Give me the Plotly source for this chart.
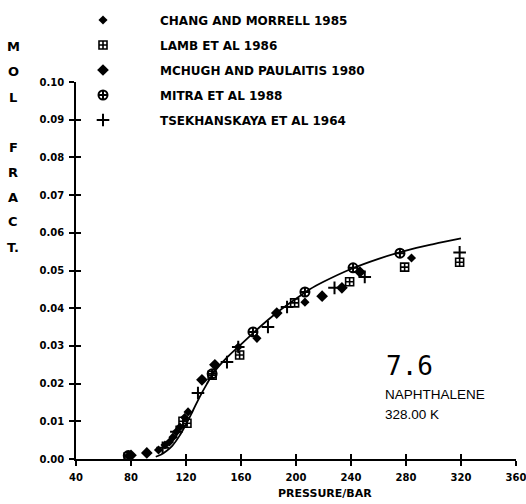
import plotly.graph_objects as go

# ---- data ----
curve_x = [98, 102, 106, 110, 115, 120, 125, 130, 135, 140, 150, 160, 170, 180,
           190, 200, 210, 220, 240, 260, 280, 300, 320]
curve_y = [0.0006, 0.0012, 0.0022, 0.0035, 0.0060, 0.0092, 0.0128, 0.0165, 0.0198,
           0.0228, 0.0270, 0.0304, 0.0338, 0.0370, 0.0399, 0.0425, 0.0450, 0.0470,
           0.0504, 0.0531, 0.0553, 0.0570, 0.0585]

chang_x = [78, 100, 104.7, 108, 110.5, 113, 115.6, 119, 121.5, 158, 171.6, 206.5, 284]
chang_y = [0.0008, 0.0024, 0.0037, 0.0045, 0.0058, 0.0072, 0.0085, 0.0110, 0.0125,
           0.0297, 0.0320, 0.0416, 0.0533]

lamb_x = [78, 117.8, 120.7, 139, 159, 199, 239, 279, 319]
lamb_y = [0.0006, 0.0100, 0.0095, 0.0222, 0.0276, 0.0414, 0.0470, 0.0509, 0.0522]

mchugh_x = [80, 91.5, 131.6, 141, 186, 219, 233.4, 246.5]
mchugh_y = [0.0010, 0.0016, 0.0210, 0.0250, 0.0387, 0.0432, 0.0454, 0.0496]

mitra_x = [78, 139, 168.7, 206.5, 241.5, 275.6]
mitra_y = [0.0009, 0.0226, 0.0337, 0.0443, 0.0507, 0.0546]

tsek_x = [103, 113, 128.7, 149.8, 158, 179.6, 193.5, 228, 250, 319]
tsek_y = [0.0030, 0.0072, 0.0175, 0.0257, 0.0297, 0.0350, 0.0403, 0.0454, 0.0483, 0.0548]

names = ["CHANG AND MORRELL 1985", "LAMB ET AL 1986", "MCHUGH AND PAULAITIS 1980",
         "MITRA ET AL 1988", "TSEKHANSKAYA ET AL 1964"]

x_ticks = [40, 80, 120, 160, 200, 240, 280, 320, 360]
y_ticks = [0.00, 0.01, 0.02, 0.03, 0.04, 0.05, 0.06, 0.07, 0.08, 0.09, 0.10]
y_title_letters = ["M", "O", "L", "", "F", "R", "A", "C", "T."]

FONT = "DejaVu Sans"
W, H = 526, 504
ML, MR, MT, MB = 76, 10, 82, 45
PW, PH = W - ML - MR, H - MT - MB

fig = go.Figure()

fig.add_trace(go.Scatter(x=curve_x, y=curve_y, mode="lines", showlegend=False,
                         line=dict(color="black", width=1.8, shape="spline", smoothing=1.0)))

series = [
    (chang_x, chang_y, dict(symbol="diamond", size=7, color="black")),
    (lamb_x, lamb_y, dict(symbol="square-cross-open", size=8, color="black",
                          line=dict(color="black", width=1.6))),
    (mchugh_x, mchugh_y, dict(symbol="diamond", size=9, color="black")),
    (mitra_x, mitra_y, dict(symbol="circle-cross-open", size=9, color="black",
                            line=dict(color="black", width=2))),
    (tsek_x, tsek_y, dict(symbol="cross-thin-open", size=9, color="black",
                          line=dict(color="black", width=2))),
]
for i, (sx, sy, mk) in enumerate(series):
    fig.add_trace(go.Scatter(x=sx, y=sy, mode="markers", name=names[i], marker=mk,
                             legendgroup=f"g{i}"))

# overlay axes so the ticks cross the axis lines
fig.add_trace(go.Scatter(x=[None], y=[None], xaxis="x2", yaxis="y2", showlegend=False,
                         hoverinfo="skip"))

axis_common = dict(showgrid=False, zeroline=False, showline=True, linecolor="black",
                   linewidth=1.6, tickcolor="black", tickwidth=1.6, ticklen=5,
                   automargin=False)


def px(xp, yp):
    """pixel position -> paper coordinates"""
    return (xp - ML) / PW, (H - MB - yp) / PH


lx, ly = px(46, 5.5)

fig.update_layout(
    width=W, height=H,
    margin=dict(l=ML, r=MR, t=MT, b=MB, autoexpand=False),
    paper_bgcolor="white", plot_bgcolor="white",
    font=dict(family=FONT, color="black"),
    xaxis=dict(range=[40, 360], tickvals=x_ticks, ticktext=[str(v) for v in x_ticks],
               ticks="outside", ticklabelstandoff=3, ticklabeloverflow="allow",
               tickfont=dict(size=10, family=FONT, weight="bold"), **axis_common),
    yaxis=dict(range=[0, 0.10], tickvals=y_ticks, ticktext=[f"{v:.2f}" for v in y_ticks],
               ticks="outside", ticklabelstandoff=3, ticklabeloverflow="allow",
               tickfont=dict(size=10, family=FONT, weight="bold"), **axis_common),
    xaxis2=dict(range=[40, 360], overlaying="x", tickvals=x_ticks, ticks="inside",
                showticklabels=False, **axis_common),
    yaxis2=dict(range=[0, 0.10], overlaying="y", tickvals=y_ticks, ticks="inside",
                showticklabels=False, **axis_common),
    legend=dict(x=lx, y=ly, xanchor="left", yanchor="top", traceorder="grouped",
                tracegroupgap=6, itemwidth=104, bgcolor="rgba(0,0,0,0)",
                font=dict(size=12, family=FONT, weight="bold")),
)

annotations = []
for k, letter in enumerate(y_title_letters):
    if letter:
        xx, yy = px(13, 47 + 25 * k)
        annotations.append(dict(text=letter, x=xx, y=yy, xref="paper", yref="paper",
                                showarrow=False, xanchor="center", yanchor="middle",
                                font=dict(size=13, family=FONT, weight="bold")))
xx, yy = px(374, 493)
annotations.append(dict(text="PRESSURE/BAR", x=xx, y=yy, xref="paper", yref="paper",
                        showarrow=False, yanchor="middle",
                        font=dict(size=11, family=FONT, weight="bold")))
xx, yy = px(384, 366)
annotations.append(dict(text="7.6", x=xx, y=yy, xref="paper", yref="paper", xanchor="left",
                        yanchor="middle", showarrow=False,
                        font=dict(size=26, family="DejaVu Sans Mono")))
xx, yy = px(383, 394)
annotations.append(dict(text="NAPHTHALENE", x=xx, y=yy, xref="paper", yref="paper",
                        xanchor="left", yanchor="middle", showarrow=False,
                        font=dict(size=13.5, family="Liberation Sans")))
xx, yy = px(383, 414)
annotations.append(dict(text="328.00 K", x=xx, y=yy, xref="paper", yref="paper",
                        xanchor="left", yanchor="middle", showarrow=False,
                        font=dict(size=13.5, family="Liberation Sans")))
fig.update_layout(annotations=annotations)

fig.write_html("out.html", config={"displayModeBar": False},
               post_script="document.body.style.margin='0';"
                           "document.body.style.overflow='hidden';")
